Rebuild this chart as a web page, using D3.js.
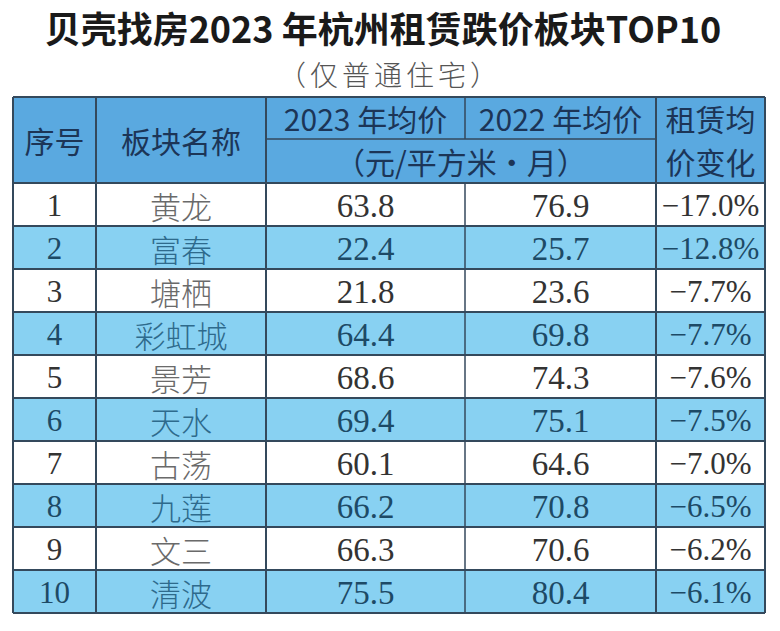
<!DOCTYPE html>
<html>
<head>
<meta charset="utf-8">
<script src="https://cdn.jsdelivr.net/npm/d3@7"></script>
<style>
  body { margin: 0; background: #fff; }
  svg { display: block; }
  .title { font-family: "Noto Sans CJK SC", sans-serif; font-weight: 700; fill: #1a1a1a; }
  .sub { font-family: "Noto Sans CJK SC", sans-serif; font-weight: 300; fill: #555; }
  .head { font-family: "Noto Sans CJK SC", sans-serif; font-weight: 400; fill: #1c3557; }
  .num { font-family: "Liberation Serif", "DejaVu Serif", serif; }
  .name { font-family: "Noto Sans CJK SC", sans-serif; font-weight: 300; }
</style>
</head>
<body>
<svg id="chart" width="780" height="631"></svg>
<script>
// data
var ranks = [1, 2, 3, 4, 5, 6, 7, 8, 9, 10];
var names = ["黄龙", "富春", "塘栖", "彩虹城", "景芳", "天水", "古荡", "九莲", "文三", "清波"];
var price2023 = [63.8, 22.4, 21.8, 64.4, 68.6, 69.4, 60.1, 66.2, 66.3, 75.5];
var price2022 = [76.9, 25.7, 23.6, 69.8, 74.3, 75.1, 64.6, 70.8, 70.6, 80.4];
var change = [-17.0, -12.8, -7.7, -7.7, -7.6, -7.5, -7.0, -6.5, -6.2, -6.1];

var svg = d3.select("#chart");

// layout
var colEdges = [13, 96, 266, 465, 656, 765];
var headTop = 97, headMid = 139, headBottom = 183, tableBottom = 613;
var lineColor = "#34495c";

var y = d3.scaleBand().domain(ranks).range([headBottom, tableBottom]);
var colMid = function (i) { return (colEdges[i] + colEdges[i + 1]) / 2; };

// title
svg.append("text")
    .attr("class", "title")
    .attr("x", 383)
    .attr("y", 27)
    .attr("text-anchor", "middle")
    .attr("dominant-baseline", "central")
    .style("font-size", "36px")
    .text("贝壳找房2023 年杭州租赁跌价板块TOP10");

svg.append("text")
    .attr("class", "sub")
    .attr("x", 390)
    .attr("y", 74)
    .attr("text-anchor", "middle")
    .attr("dominant-baseline", "central")
    .style("font-size", "28px")
    .style("letter-spacing", "4px")
    .text("（仅普通住宅）");

// header background
svg.append("rect")
    .attr("x", colEdges[0])
    .attr("y", headTop)
    .attr("width", colEdges[5] - colEdges[0])
    .attr("height", headBottom - headTop)
    .attr("fill", "#5aa9e0");

// row backgrounds
svg.selectAll("rect.row")
    .data(ranks)
    .enter().append("rect")
    .attr("class", "row")
    .attr("x", colEdges[0])
    .attr("y", function (d) { return y(d); })
    .attr("width", colEdges[5] - colEdges[0])
    .attr("height", y.bandwidth())
    .attr("fill", function (d) { return d % 2 === 0 ? "#88d1f2" : "#ffffff"; });

// header text
function headText(x, yy, txt) {
    svg.append("text")
        .attr("class", "head")
        .attr("x", x)
        .attr("y", yy)
        .attr("text-anchor", "middle")
        .attr("dominant-baseline", "central")
        .style("font-size", "30px")
        .text(txt);
}
var headCenter = (headTop + headBottom) / 2;
headText(colMid(0), headCenter, "序号");
headText(colMid(1), headCenter, "板块名称");
headText(colMid(2), (headTop + headMid) / 2, "2023 年均价");
headText(colMid(3), (headTop + headMid) / 2, "2022 年均价");
headText((colEdges[2] + colEdges[4]) / 2, (headMid + headBottom) / 2, "（元/平方米·月）");
headText(colMid(4), (headTop + headMid) / 2, "租赁均");
headText(colMid(4), (headMid + headBottom) / 2, "价变化");

// body text
var fmtPct = function (v) { return "\u2212" + Math.abs(v).toFixed(1) + "%"; };
var cols = [
    { cls: "num", vals: ranks, fmt: String, size: 31 },
    { cls: "name", vals: names, fmt: String, size: 31 },
    { cls: "num", vals: price2023, fmt: d3.format(".1f"), size: 33 },
    { cls: "num", vals: price2022, fmt: d3.format(".1f"), size: 33 },
    { cls: "num", vals: change, fmt: fmtPct, size: 31 }
];

cols.forEach(function (c, ci) {
    svg.selectAll("text.c" + ci)
        .data(c.vals)
        .enter().append("text")
        .attr("class", c.cls + " c" + ci)
        .attr("x", colMid(ci))
        .attr("y", function (d, i) { return y(ranks[i]) + y.bandwidth() / 2 + 1; })
        .attr("text-anchor", "middle")
        .attr("dominant-baseline", "central")
        .style("font-size", c.size + "px")
        .attr("fill", function (d, i) {
            var even = ranks[i] % 2 === 0;
            if (ci === 1) return even ? "#2e6a8c" : "#6a6a6a";
            return even ? "#1d4a66" : "#333333";
        })
        .text(function (d) { return c.fmt(d); });
});

// grid lines
var g = svg.append("g").attr("stroke", lineColor).attr("stroke-width", 2).attr("fill", "none");

// horizontal
g.append("line").attr("x1", colEdges[0]).attr("x2", colEdges[5]).attr("y1", headTop).attr("y2", headTop);
g.append("line").attr("x1", colEdges[2]).attr("x2", colEdges[4]).attr("y1", headMid).attr("y2", headMid).attr("stroke-width", 1.5);
g.selectAll("line.h")
    .data(ranks)
    .enter().append("line")
    .attr("class", "h")
    .attr("x1", colEdges[0])
    .attr("x2", colEdges[5])
    .attr("y1", function (d) { return y(d); })
    .attr("y2", function (d) { return y(d); });
g.append("line").attr("x1", colEdges[0]).attr("x2", colEdges[5]).attr("y1", tableBottom).attr("y2", tableBottom);

// vertical
colEdges.forEach(function (x, i) {
    if (i === 3) {
        g.append("line").attr("x1", x).attr("x2", x).attr("y1", headTop).attr("y2", headMid).attr("stroke-width", 1.5);
        g.append("line").attr("x1", x).attr("x2", x).attr("y1", headBottom).attr("y2", tableBottom).attr("stroke-width", 1.5);
    } else {
        g.append("line").attr("x1", x).attr("x2", x).attr("y1", headTop).attr("y2", tableBottom);
    }
});
</script>
</body>
</html>
